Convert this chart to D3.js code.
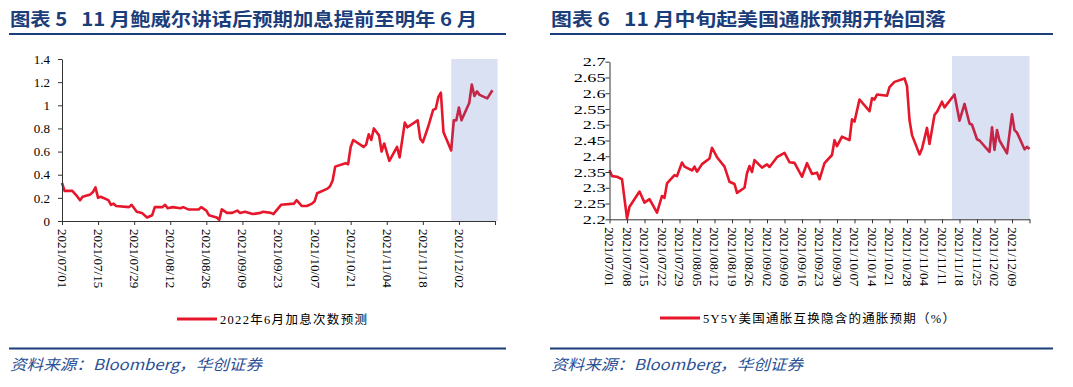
<!DOCTYPE html>
<html>
<head>
<meta charset="utf-8">
<script src="https://cdn.jsdelivr.net/npm/d3@7"></script>
<style>
  body { margin: 0; background: #fff; }
  svg { display: block; }
</style>
</head>
<body>
<svg id="chart" width="1073" height="387"></svg>
<script>
// all dates are 2021, written as month/day
var leftDates = ["07/01","07/02","07/05","07/07","07/08","07/09","07/12","07/13","07/14","07/15",
  "07/16","07/19","07/20","07/21","07/22","07/27","07/28","07/30","08/01","08/03",
  "08/05","08/06","08/09","08/10","08/11","08/13","08/16","08/17","08/19","08/23",
  "08/24","08/26","08/27","08/30","08/31","09/01","09/03","09/05","09/07","09/08",
  "09/10","09/13","09/16","09/17","09/20","09/21","09/24","09/29","09/30","10/02",
  "10/04","10/06","10/07","10/08","10/12","10/13","10/14","10/15","10/19","10/20",
  "10/21","10/22","10/26","10/27","10/28","10/29","10/30","11/01","11/02","11/03",
  "11/05","11/08","11/09","11/11","11/12","11/16","11/17","11/18","11/20","11/22",
  "11/23","11/24","11/25","11/26","11/29","11/30","12/01","12/02","12/03","12/06",
  "12/07","12/08","12/09","12/10","12/13","12/15"];
var leftValues = [0.33,0.26,0.26,0.21,0.18,0.21,0.23,0.25,0.29,0.20,
  0.21,0.18,0.14,0.15,0.13,0.12,0.14,0.08,0.07,0.03,
  0.05,0.12,0.12,0.14,0.11,0.12,0.11,0.12,0.10,0.10,
  0.12,0.09,0.05,0.03,0.01,0.10,0.07,0.07,0.09,0.07,
  0.08,0.06,0.07,0.08,0.07,0.06,0.14,0.15,0.18,0.13,
  0.13,0.15,0.17,0.24,0.28,0.30,0.35,0.47,0.50,0.49,
  0.64,0.70,0.64,0.66,0.75,0.70,0.80,0.74,0.60,0.67,
  0.52,0.64,0.55,0.85,0.81,0.87,0.71,0.68,0.81,0.96,
  0.97,1.07,1.11,0.77,0.61,0.87,0.87,0.98,0.87,1.02,
  1.18,1.08,1.12,1.09,1.06,1.13];
var leftTickLabels = ["07/01","07/15","07/29","08/12","08/26","09/09","09/23","10/07","10/21","11/04","11/18","12/02"];
var leftYTicks = [0,0.2,0.4,0.6,0.8,1,1.2,1.4];

var rightDates = ["07/01","07/02","07/04","07/06","07/08","07/09","07/13","07/15","07/17","07/20",
  "07/22","07/23","07/24","07/27","07/28","07/30","07/31","08/03","08/04","08/05",
  "08/07","08/10","08/11","08/13","08/16","08/18","08/20","08/21","08/24","08/25",
  "08/26","08/27","08/28","08/31","09/02","09/03","09/06","09/09","09/11","09/13",
  "09/16","09/18","09/20","09/22","09/23","09/25","09/28","09/29","09/30","10/02",
  "10/05","10/06","10/07","10/09","10/13","10/14","10/15","10/16","10/20","10/21",
  "10/23","10/27","10/28","10/29","10/30","11/02","11/03","11/05","11/06","11/08",
  "11/09","11/11","11/12","11/16","11/18","11/20","11/22","11/23","11/25","11/26",
  "11/30","12/01","12/02","12/03","12/04","12/07","12/09","12/10","12/11","12/14",
  "12/15","12/16"];
var rightValues = [2.356,2.337,2.335,2.327,2.203,2.240,2.288,2.253,2.264,2.221,
  2.274,2.268,2.314,2.340,2.337,2.380,2.367,2.355,2.367,2.351,
  2.375,2.393,2.427,2.397,2.367,2.319,2.312,2.284,2.300,2.346,
  2.369,2.350,2.388,2.364,2.374,2.366,2.397,2.411,2.381,2.379,
  2.335,2.378,2.344,2.348,2.327,2.378,2.404,2.451,2.432,2.462,
  2.451,2.517,2.510,2.580,2.543,2.584,2.580,2.596,2.592,2.619,
  2.636,2.647,2.623,2.515,2.467,2.406,2.424,2.490,2.439,2.531,
  2.541,2.573,2.555,2.596,2.513,2.566,2.504,2.500,2.454,2.450,
  2.414,2.492,2.420,2.483,2.450,2.409,2.533,2.483,2.475,2.422,
  2.430,2.423];
var rightTickLabels = ["07/01","07/08","07/15","07/22","07/29","08/05","08/12","08/19","08/26","09/02",
  "09/09","09/16","09/23","09/30","10/07","10/14","10/21","10/28","11/04","11/11",
  "11/18","11/25","12/02","12/09"];
var rightYTicks = [2.2,2.25,2.3,2.35,2.4,2.45,2.5,2.55,2.6,2.65,2.7];

var axisEnd = "12/16";
var leftShade = ["11/29", "12/17"];
var rightShade = ["11/15", "12/16"];

var parse = d3.timeParse("%Y/%m/%d"),
    toDate = function(s) { return parse("2021/" + s); },
    navy = "#1B3D7A",
    red = "#E6162B",
    serif = "'Liberation Serif','Times New Roman',serif",
    cjk = "'Noto Sans CJK SC','Liberation Serif',sans-serif";

var svg = d3.select("#chart");

function panel(cfg) {
    var g = svg.append("g");

    var x = d3.scaleTime()
        .domain([toDate(cfg.ticks[0]), toDate(axisEnd)])
        .range(cfg.xRange);
    var y = d3.scaleLinear()
        .domain(cfg.yDomain)
        .range(cfg.yRange);

    // title + rules
    g.append("text")
        .attr("x", cfg.left + 1)
        .attr("y", 26)
        .attr("font-family", cjk)
        .attr("font-weight", 700)
        .attr("font-size", "18px")
        .attr("fill", navy)
        .style("white-space", "pre")
        .attr("textLength", cfg.titleLen)
        .attr("lengthAdjust", "spacingAndGlyphs")
        .text(cfg.title);
    g.append("line")
        .attr("x1", cfg.left).attr("x2", cfg.right)
        .attr("y1", 34).attr("y2", 34)
        .attr("stroke", navy).attr("stroke-width", 2);
    g.append("line")
        .attr("x1", cfg.left).attr("x2", cfg.right)
        .attr("y1", 348.5).attr("y2", 348.5)
        .attr("stroke", navy).attr("stroke-width", 2);
    g.append("text")
        .attr("x", cfg.left + 1)
        .attr("y", 370)
        .attr("font-family", cjk)
        .attr("font-style", "italic")
        .attr("font-size", "15px")
        .attr("fill", "#2A4F94")
        .attr("textLength", 252)
        .attr("lengthAdjust", "spacingAndGlyphs")
        .text("资料来源：Bloomberg，华创证券");

    // series
    var pts = cfg.dates.map(function(d, i) { return { date: toDate(d), value: cfg.values[i] }; });
    var line = d3.line()
        .x(function(d) { return x(d.date); })
        .y(function(d) { return y(d.value); });
    g.append("path")
        .datum(pts)
        .attr("d", line)
        .attr("fill", "none")
        .attr("stroke", red)
        .attr("stroke-width", 2.6)
        .attr("stroke-linejoin", "round");

    // shaded window sits over the line
    var s0 = x(toDate(cfg.shade[0])), s1 = x(toDate(cfg.shade[1]));
    g.append("rect")
        .attr("x", s0)
        .attr("width", s1 - s0)
        .attr("y", y(cfg.shadeTop))
        .attr("height", y(cfg.yDomain[0]) - y(cfg.shadeTop))
        .attr("fill", "rgb(65,105,190)")
        .attr("fill-opacity", 0.2);

    // y axis
    var yAxis = g.append("g")
        .attr("transform", "translate(" + cfg.xRange[0] + ",0)")
        .call(d3.axisLeft(y)
            .tickValues(cfg.yTicks)
            .tickSize(4)
            .tickSizeOuter(0)
            .tickPadding(cfg.yPad)
            .tickFormat(function(d) { return String(+d.toFixed(2)); }));
    yAxis.selectAll("text")
        .attr("font-family", serif)
        .attr("font-size", "13px")
        .attr("fill", "#000");
    if (cfg.yStretch) {
        yAxis.selectAll("text")
            .attr("x", -(4 + cfg.yPad) / cfg.yStretch)
            .attr("transform", "scale(" + cfg.yStretch + ",1)");
    }

    // x axis
    var tickDates = cfg.ticks.concat([axisEnd]);
    var xAxis = g.append("g")
        .attr("transform", "translate(0," + cfg.yRange[0] + ")")
        .call(d3.axisBottom(x)
            .tickValues(tickDates.map(toDate))
            .tickSize(4)
            .tickSizeOuter(0)
            .tickFormat(function(d, i) { return i < cfg.ticks.length ? "2021/" + cfg.ticks[i] : ""; }));
    xAxis.selectAll("text")
        .attr("transform", "rotate(90)")
        .attr("x", 8)
        .attr("y", 0)
        .attr("dy", "0.35em")
        .attr("text-anchor", "start")
        .attr("font-family", serif)
        .attr("font-size", "13px")
        .attr("fill", "#000");

    g.selectAll(".domain, .tick line").attr("stroke", "#333");

    // legend
    g.append("line")
        .attr("x1", cfg.legend[0]).attr("x2", cfg.legend[0] + 40)
        .attr("y1", cfg.legend[1]).attr("y2", cfg.legend[1])
        .attr("stroke", red).attr("stroke-width", 3);
    g.append("text")
        .attr("x", cfg.legend[0] + 43)
        .attr("y", cfg.legend[1] + 4.5)
        .attr("font-family", serif + ",'Noto Sans CJK SC'")
        .attr("font-size", "12.5px")
        .attr("fill", "#000")
        .attr("textLength", cfg.legendLen)
        .attr("lengthAdjust", "spacing")
        .text(cfg.label);
}

panel({
    title: "图表 5   11 月鲍威尔讲话后预期加息提前至明年 6 月",
    titleLen: 467,
    left: 9, right: 506,
    xRange: [62, 495], yRange: [221, 59],
    yDomain: [0, 1.4], yTicks: leftYTicks, yPad: 8,
    dates: leftDates, values: leftValues, ticks: leftTickLabels,
    shade: leftShade, shadeTop: 1.4,
    label: "2022年6月加息次数预测", legend: [177, 319], legendLen: 147
});

panel({
    title: "图表 6   11 月中旬起美国通胀预期开始回落",
    titleLen: 395,
    left: 550, right: 1053,
    xRange: [609.5, 1029.5], yRange: [219.3, 61.7],
    yDomain: [2.2, 2.7], yTicks: rightYTicks, yPad: 0, yStretch: 1.4,
    dates: rightDates, values: rightValues, ticks: rightTickLabels,
    shade: rightShade, shadeTop: 2.718,
    label: "5Y5Y美国通胀互换隐含的通胀预期（%）", legend: [660, 318], legendLen: 252
});
</script>
</body>
</html>
